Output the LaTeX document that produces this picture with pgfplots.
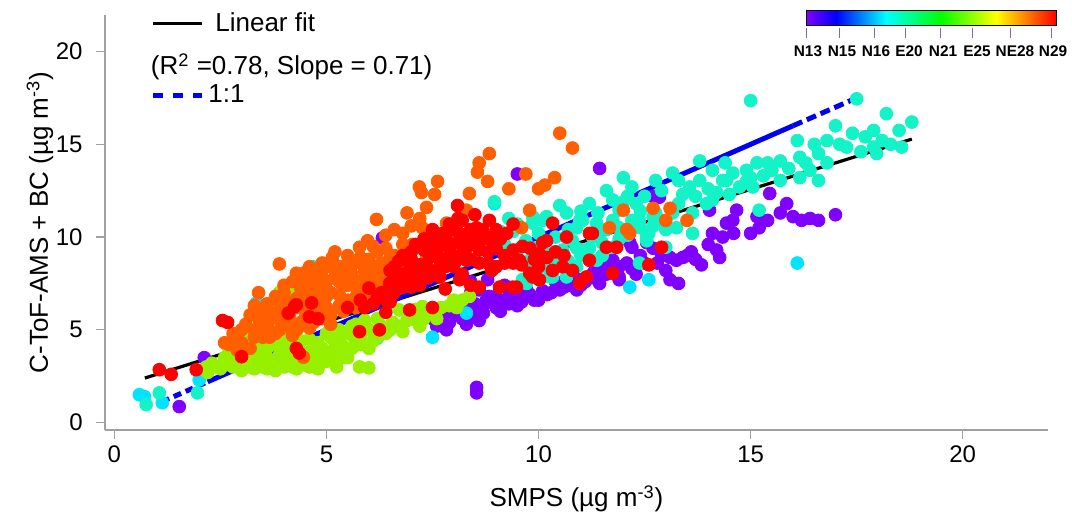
\documentclass[border=0pt]{standalone}
\usepackage{fontspec}
\setmainfont{Liberation Sans}
\usepackage{pgfplots}
\pgfplotsset{compat=1.18}

\definecolor{cViolet}{RGB}{128,0,255}
\definecolor{cCyan}{RGB}{0,228,255}
\definecolor{cTurq}{RGB}{20,242,200}
\definecolor{cLime}{RGB}{150,240,0}
\definecolor{cOrange}{RGB}{255,95,0}
\definecolor{cRed}{RGB}{255,0,0}
\definecolor{axisgray}{RGB}{160,160,160}
\definecolor{fitblue}{RGB}{0,0,245}
\definecolor{cbtick}{RGB}{140,100,170}

\pgfdeclarehorizontalshading{rainbowbar}{100bp}{%
  color(0bp)=(cViolet); color(25bp)=(cViolet);
  color(31bp)=(blue); color(41bp)=(cyan); color(52bp)=(green);
  color(63bp)=(yellow); color(69bp)=(orange); color(75bp)=(red);
  color(100bp)=(red)}

\begin{document}
\begin{tikzpicture}
\useasboundingbox (-52.5pt,-44.5pt) rectangle (483.5pt,215pt);
\begin{axis}[
  at={(0,0)}, anchor=south west,
  scale only axis, width=471.5pt, height=207.5pt,
  xmin=-0.22, xmax=22.01, ymin=-0.40, ymax=21.97,
  axis x line=bottom, axis y line=left,
  axis line style={draw=axisgray, line width=0.6pt, -},
  xtick={0,5,10,15,20}, ytick={0,5,10,15,20},
  tick align=outside, major tick length=4.5pt,
  tick style={draw=axisgray, line width=0.6pt},
  ticklabel style={font=\fontsize{12}{14}\selectfont},
  yticklabel style={anchor=east, inner sep=0pt, xshift=-6.5pt},
  /pgf/number format/assume math mode=true,
  xlabel={SMPS (µg m\textsuperscript{-3})},
  ylabel={C-ToF-AMS + BC (µg m\textsuperscript{-3})},
  label style={font=\fontsize{13}{15}\selectfont},
  xlabel style={at={([yshift=-38.5pt]axis description cs:0.5,0)}, anchor=base},
  ylabel style={at={([xshift=-28.5pt]axis description cs:0,0.5)}, rotate=0, anchor=base},
  clip=false,
  every axis plot/.append style={only marks, mark=*, mark size=3.2pt},
]
% N13
\addplot[cViolet] coordinates {
(1.53,0.86) (2.12,3.5) (5.24,4.2) (8.54,1.6) (8.54,1.9) (6.32,9.95) (9.5,13.4) (11.44,13.7) (12.85,12.15)
(7.19,5.4) (7.5,5.6) (7.83,5.0) (7.8,5.8) (8.0,6.2) (8.2,5.6) (8.37,6.07) (8.6,5.5) (8.5,6.4) (8.4,7.0)
(8.6,7.15) (8.77,6.6) (8.7,5.9) (8.84,6.8) (9.0,6.8) (9.0,6.2) (9.2,6.6) (9.32,7.0) (9.5,6.3) (9.62,6.8)
(9.62,7.3) (9.72,7.15) (9.8,6.9) (10.0,6.6) (10.2,6.9) (10.4,7.6) (10.5,7.15) (10.7,7.4) (10.9,7.15)
(10.97,7.7) (11.1,7.6) (11.3,8.1) (11.44,7.5) (11.44,8.75) (11.56,8.3) (11.7,8.2) (11.75,8.75) (11.9,7.85)
(11.9,7.7) (12.08,8.6) (12.15,9.7) (12.2,9.45) (12.3,8.0) (12.4,9.0) (12.55,9.7) (12.7,9.4) (12.9,9.0)
(13.0,8.2) (13.1,7.7) (13.25,8.75) (13.3,7.5) (13.4,8.9) (13.6,9.2) (13.84,8.5) (14.0,9.6) (14.03,11.45)
(14.1,10.2) (14.27,8.9) (14.34,10.0) (14.43,10.75) (14.58,10.9) (14.6,10.2) (14.67,11.45) (15.0,10.2)
(15.15,11.1) (15.2,10.5) (15.4,10.9) (15.45,12.35) (15.7,11.3) (15.85,11.8) (16.0,11.1) (16.2,10.9)
(16.4,11.0) (16.6,10.9) (17.0,11.2) (8.4,7.6) (8.8,7.7) (9.2,7.4) (9.5,7.0)
(7.6,5.2) (7.9,5.4) (8.1,5.9) (8.3,5.3) (8.5,5.8) (8.7,6.3) (8.9,6.5) (9.1,6.0) (9.3,6.4) (9.4,6.9)
(9.6,6.5) (9.9,6.6) (10.1,7.1) (10.3,7.0) (10.6,7.3) (10.8,7.7) (11.0,7.4) (11.3,7.8) (11.6,8.0)
(11.9,8.4) (12.2,8.3) (12.5,8.6) (12.8,8.6) (13.1,8.9) (13.5,9.0) (13.7,8.8) (14.2,9.3) (12.7,12.2)
};
% N16
\addplot[cCyan] coordinates {
(0.59,1.5) (0.71,1.4) (1.13,1.07) (2.0,2.3) (3.35,6.45) (4.67,8.4) (4.9,3.8) (6.2,4.55) (7.5,4.6)
(8.3,5.9) (8.1,9.7) (8.96,11.8) (12.15,7.3) (12.6,7.7) (16.1,8.6)
};
% E20
\addplot[cTurq] coordinates {
(0.75,0.97) (1.06,1.6) (1.96,1.6) (8.96,11.9) (9.86,10.75) (10.1,10.9) (10.26,7.85) (9.72,7.5)
(10.19,11.1) (10.66,11.3) (10.97,10.9) (11.37,10.75) (11.9,11.45) (12.3,11.8) (12.7,11.1) (13.16,11.3)
(13.63,10.2) (12.55,9.8) (11.75,9.45) (11.37,8.75) (10.9,8.4) (10.66,7.85) (10.33,7.85) (10.02,7.7)
(9.62,7.7) (9.79,8.75) (10.19,9.1) (10.57,9.3) (10.8,9.8) (11.27,10.0) (12.38,8.6) (12.6,10.2)
(13.0,10.4) (9.86,11.1) (10.9,10.5) (11.6,10.4) (12.2,10.9) (15.0,17.35) (17.5,17.45) (18.2,16.65)
(18.8,16.2) (18.5,15.75) (18.56,14.85) (17.9,15.75) (17.7,15.4) (17.0,16.0) (17.4,15.6) (17.26,14.85)
(16.8,15.2) (16.6,14.5) (16.8,14.0) (16.6,13.05) (16.1,15.2) (16.16,14.3) (16.16,13.2) (17.9,14.85)
(17.97,14.5) (15.7,14.1) (15.7,13.05) (15.4,14.0) (15.15,14.0) (14.9,13.6) (14.58,13.45) (14.34,13.05)
(14.1,13.6) (13.8,14.1) (13.8,13.05) (13.56,12.7) (13.3,13.05) (13.16,13.45) (14.1,12.0) (14.74,12.7)
(15.05,12.7) (15.2,11.45) (12.9,12.5) (12.76,13.05) (12.0,13.2) (12.2,12.7) (11.6,12.5) (11.75,12.0)
(13.0,9.45) (12.55,10.0) (12.38,10.9) (13.25,10.5) (13.63,11.3) (13.96,11.8) (11.04,10.9) (11.37,10.2)
(11.04,9.3) (11.75,10.9) (12.76,11.3) (14.43,13.05) (14.4,14.0) (15.0,13.2) (15.5,13.6) (16.4,13.6)
(14.0,12.6) (12.5,12.2) (11.2,11.8) (10.5,11.7) (9.4,10.3) (9.2,9.6)
(9.9,8.1) (10.1,8.4) (10.4,8.6) (10.7,8.7) (11.0,9.0) (11.2,9.4) (11.5,9.7) (11.5,9.0) (11.9,9.9)
(11.9,10.5) (12.1,10.1) (12.4,10.5) (12.7,10.6) (12.9,10.9) (12.4,11.4) (12.0,11.9) (11.4,11.3)
(11.0,11.4) (10.7,10.4) (10.4,10.0) (10.0,10.2) (9.7,9.8) (9.5,9.3) (9.9,9.4) (13.3,11.8) (13.7,12.2)
(14.2,12.4) (14.5,12.3) (14.9,13.0) (15.3,13.3) (15.9,13.7) (16.3,14.0) (16.5,15.0) (17.1,15.0)
(17.6,14.6) (18.1,15.2) (18.3,15.0) (12.1,12.2) (13.4,12.3) (10.9,9.4) (9.1,10.3) (9.5,10.7) (9.3,11.0)
};
% E25
\addplot[cLime] coordinates {
(2.17,3.0) (2.2,2.7) (2.3,3.2) (2.5,2.9) (2.6,3.5) (2.8,3.0) (2.9,3.8) (3.0,2.8) (3.1,3.3) (3.07,4.6)
(3.2,4.3) (3.3,2.9) (3.4,3.6) (3.5,3.0) (3.6,4.0) (3.7,3.3) (3.8,2.8) (3.9,3.7) (4.0,3.0) (4.1,4.3)
(4.2,3.3) (4.3,2.9) (4.4,3.8) (4.5,3.1) (4.6,4.5) (4.7,3.4) (4.8,2.9) (4.9,4.0) (5.0,3.3) (5.1,4.6)
(5.2,3.7) (5.24,3.0) (5.3,5.0) (5.4,4.1) (5.5,3.5) (5.6,4.7) (5.7,5.3) (5.78,3.0) (5.8,4.2) (6.0,2.95)
(6.0,5.0) (6.1,4.4) (6.2,5.6) (6.4,4.8) (6.56,5.4) (6.72,6.07) (6.8,4.9) (7.0,5.8) (7.12,5.5) (7.2,5.2)
(7.26,6.25) (7.4,6.0) (7.6,5.6) (7.9,6.3) (8.07,6.2) (8.2,6.6) (8.37,6.8) (3.89,7.0) (4.2,7.15)
(2.7,4.0) (3.6,5.0) (4.0,4.8) (4.4,5.2)
(2.4,3.0) (2.6,3.1) (2.8,3.4) (3.0,3.2) (3.2,3.0) (3.2,3.6) (3.4,3.2) (3.4,4.0) (3.6,3.5) (3.6,2.9)
(3.8,3.4) (3.8,4.2) (4.0,3.6) (4.0,4.2) (4.2,3.0) (4.2,3.8) (4.4,3.3) (4.4,4.4) (4.6,3.0) (4.6,3.8)
(4.8,3.5) (4.8,4.3) (5.0,3.8) (5.0,4.8) (5.2,3.3) (5.2,4.3) (5.4,3.5) (5.4,4.8) (5.6,4.0) (5.6,5.2)
(5.8,4.6) (5.9,5.5) (6.0,4.0) (6.2,4.6) (6.3,5.2) (6.5,5.0) (6.7,5.2) (6.9,5.5) (7.1,6.1) (7.3,5.6)
(7.5,5.9) (7.7,6.2) (8.0,6.6) (3.1,4.0) (2.9,3.4) (2.7,3.3)
};
% NE28
\addplot[cOrange] coordinates {
(2.71,4.2) (2.6,4.3) (2.8,4.8) (2.9,3.9) (3.0,4.3) (3.1,5.3) (3.2,4.0) (3.3,5.0) (3.4,5.6) (3.4,7.0)
(3.5,4.6) (3.58,6.1) (3.6,5.3) (3.6,6.4) (3.66,4.6) (3.7,5.9) (3.8,4.8) (3.89,5.55) (3.89,8.55)
(3.9,6.4) (4.0,5.2) (4.0,7.4) (4.1,6.0) (4.13,5.7) (4.2,4.7) (4.29,8.05) (4.3,6.7) (4.43,7.6)
(4.46,3.52) (4.4,5.4) (4.5,7.0) (4.5,6.0) (4.5,8.1) (4.6,5.1) (4.67,7.15) (4.7,7.6) (4.76,6.25)
(4.8,6.6) (4.83,8.05) (4.9,5.6) (4.9,7.85) (4.9,8.6) (5.0,7.2) (5.0,6.2) (5.0,6.8) (5.1,5.3) (5.14,8.9)
(5.2,7.8) (5.3,6.9) (5.3,8.4) (5.38,7.5) (5.4,6.0) (5.47,8.5) (5.5,7.4) (5.5,9.0) (5.6,8.0) (5.7,6.8)
(5.78,9.45) (5.78,8.6) (5.8,7.6) (5.9,8.2) (5.97,9.8) (6.0,6.9) (6.1,7.8) (6.18,10.95) (6.18,8.05)
(6.2,8.4) (6.3,8.6) (6.4,7.4) (6.5,8.9) (6.6,10.4) (6.7,8.3) (6.9,9.1) (7.03,9.6) (7.03,8.6) (7.19,12.7)
(7.24,12.4) (7.26,10.5) (7.36,11.6) (7.36,8.9) (7.55,12.3) (7.62,13.0) (7.67,9.3) (7.83,10.75) (7.97,9.8)
(8.3,11.45) (8.37,12.35) (8.56,13.5) (8.6,14.0) (8.8,13.0) (8.84,14.5) (9.3,12.6) (9.6,10.5) (9.7,13.4)
(9.79,11.45) (10.0,12.6) (10.15,12.8) (10.38,13.2) (10.5,15.6) (10.8,14.8) (11.67,10.5) (12.0,11.45)
(12.7,11.55) (13.1,11.55) (13.0,10.9) (13.5,10.9) (12.15,10.2) (12.08,10.4)
(3.3,4.6) (3.5,5.2) (3.7,4.9) (3.9,5.0) (4.1,5.4) (4.3,5.0) (4.5,5.6) (4.7,5.4) (4.9,6.0) (5.1,5.8)
(5.3,6.3) (5.5,6.6) (5.7,6.2) (5.9,7.0) (6.1,7.2) (6.3,7.6) (3.5,6.0) (3.7,5.6) (3.9,6.0) (4.1,6.5)
(4.3,6.2) (4.5,6.5) (4.7,6.9) (4.9,7.3) (5.1,7.0) (5.3,7.6) (5.5,7.9) (5.7,7.3) (5.9,7.8) (6.1,8.2)
(6.3,8.1) (6.5,7.9) (3.8,6.8) (4.0,7.0) (4.2,7.6) (4.4,7.2) (4.6,7.9) (4.8,7.4) (5.0,7.6) (5.2,8.2)
(5.4,8.0) (5.6,8.5) (5.8,8.9) (6.0,8.8) (6.2,9.2) (6.4,9.4) (6.6,9.0) (6.8,9.6) (3.2,5.8) (3.0,5.0)
(2.9,4.5) (3.3,6.3) (4.6,8.4) (5.0,8.4) (5.2,9.2) (6.1,9.5) (6.4,10.1) (6.8,10.2) (7.0,10.6) (7.2,11.0)
(6.9,11.3)
};
% N29
\addplot[cRed] coordinates {
(1.06,2.85) (1.34,2.6) (1.93,2.85) (2.55,5.5) (2.67,5.4) (3.0,3.55) (4.25,6.25) (4.65,6.45) (4.29,4.0)
(4.36,3.75) (4.6,5.7) (4.29,6.35) (5.5,6.2) (5.78,4.9) (5.8,6.6) (6.0,7.25) (6.1,6.4) (6.25,5.0)
(6.3,7.0) (6.4,5.95) (6.49,7.5) (6.5,6.5) (6.6,7.6) (6.72,7.85) (6.8,8.0) (6.9,7.7) (6.96,6.07)
(6.96,8.2) (6.96,8.6) (7.0,7.3) (7.0,9.2) (7.12,8.2) (7.2,8.5) (7.3,9.9) (7.4,7.8) (7.43,8.9) (7.43,9.5)
(7.5,6.2) (7.6,8.9) (7.6,9.2) (7.67,7.85) (7.74,10.2) (7.8,8.4) (7.8,7.2) (7.83,9.8) (7.8,10.1)
(8.0,9.0) (8.07,8.75) (8.09,11.7) (8.14,10.2) (8.14,7.7) (8.2,8.0) (8.2,10.9) (8.3,8.75) (8.3,10.0)
(8.37,9.7) (8.4,7.4) (8.54,10.5) (8.6,8.6) (8.6,7.3) (8.6,9.3) (8.68,10.4) (8.8,9.2) (8.84,10.9)
(8.9,9.8) (8.9,8.2) (9.0,8.4) (9.08,7.3) (9.2,9.0) (9.25,10.2) (9.39,7.3) (9.4,8.6) (9.48,7.3)
(9.55,8.75) (9.62,9.5) (9.79,8.05) (9.86,7.85) (9.9,8.8) (10.02,7.7) (10.02,9.1) (10.1,9.7) (10.19,9.8)
(10.2,8.9) (10.33,8.2) (10.33,10.75) (10.57,8.4) (10.66,10.0) (10.97,7.5) (11.13,7.85) (11.2,10.2)
(11.2,8.75) (11.27,10.2) (11.6,9.45) (11.75,8.05) (11.84,9.45) (12.6,8.5) (12.9,9.45)
(5.9,6.2) (6.2,6.8) (6.4,6.6) (6.6,7.0) (6.8,7.3) (7.0,7.7) (7.2,7.4) (7.2,8.0) (7.4,8.3) (7.6,8.2)
(7.8,8.8) (8.0,8.4) (8.2,9.1) (8.4,8.8) (8.6,9.7) (8.8,8.6) (9.0,9.4) (9.2,8.6) (9.4,9.3) (9.6,8.5)
(9.8,9.4) (10.0,8.4) (10.4,9.2) (10.6,9.0) (10.8,8.2) (7.1,9.6) (7.5,10.4) (7.9,10.7) (8.1,11.0)
(8.4,10.4) (8.5,11.2) (9.0,10.4) (9.4,10.7) (6.7,8.7) (6.5,8.2) (4.1,5.9) (4.8,5.6)
(6.8,9.0) (7.0,8.8) (7.3,9.3) (7.5,9.0) (7.7,9.6) (7.9,9.4) (8.1,9.7) (8.3,9.4) (8.5,10.0) (8.7,9.9)
(6.6,8.4) (6.9,8.9) (7.6,10.0) (8.0,10.4) (8.8,10.0) (9.1,9.9)
};
% linear fit
\addplot[black, no marks, sharp plot, line width=1.6pt] coordinates {(0.72,2.40) (18.80,15.28)};
% 1:1
\addplot[fitblue, no marks, sharp plot, line width=2.5pt, dash pattern=on 4pt off 2.5pt] coordinates {(1.12,1.12) (2.2,2.2)};
\addplot[fitblue, no marks, sharp plot, line width=2.5pt] coordinates {(2.2,2.2) (16.0,16.0)};
\addplot[fitblue, no marks, sharp plot, line width=2.5pt, dash pattern=on 5pt off 2.5pt] coordinates {(16.0,16.0) (17.46,17.46)};
\end{axis}

% legend
\draw[black, line width=1.6pt] (24pt,203.3pt) -- (48.5pt,203.3pt);
\node[anchor=base west, inner sep=0pt, font=\fontsize{13}{15}\selectfont] at (55pt,199pt) {Linear fit};
\node[anchor=base west, inner sep=0pt, font=\fontsize{13}{15}\selectfont] at (22.8pt,177.5pt) {(R\textsuperscript{2} =0.78, Slope = 0.71)};
\draw[fitblue, line width=2.5pt, dash pattern=on 5pt off 5pt] (24pt,167pt) -- (48.5pt,167pt);
\node[anchor=base west, inner sep=0pt, font=\fontsize{13}{15}\selectfont] at (51.5pt,163.5pt) {1:1};

% colour scale
\shade[shading=rainbowbar] (350.5pt,202pt) rectangle (475.5pt,209.5pt);
\draw[black, line width=0.5pt] (350.5pt,202pt) rectangle (475.5pt,209.5pt);
\foreach \x in {350.5, 367, 384.5, 400, 417.8, 433.5, 452.5, 473.3}
  \draw[cbtick, line width=0.5pt] (\x pt,201pt) -- (\x pt,196pt);
\foreach \x/\lab in {351.5/N13, 368.5/N15, 385.5/N16, 402/E20, 419/N21, 436/E25, 455/NE28, 474/N29}
  \node[anchor=base, inner sep=0pt, font=\fontsize{7.7}{9}\selectfont\bfseries] at (\x pt,186.7pt) {\lab};
\end{tikzpicture}
\end{document}
